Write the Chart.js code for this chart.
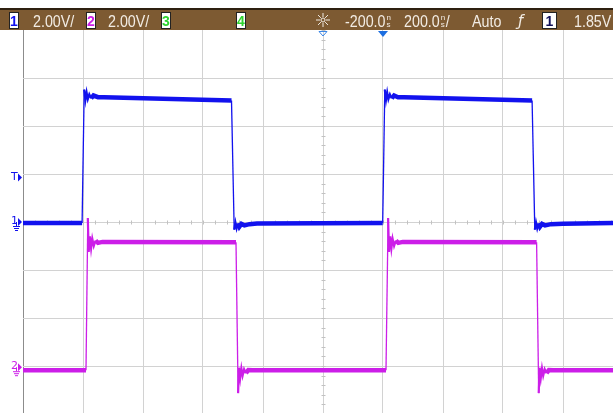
<!DOCTYPE html>
<html>
<head>
<meta charset="utf-8">
<script src="https://cdn.jsdelivr.net/npm/chart.js@4.4.1/dist/chart.umd.min.js"></script>
<style>
html, body { margin: 0; padding: 0; background: #fff; overflow: hidden; }
#wrap { position: relative; width: 613px; height: 413px; }
</style>
</head>
<body>
<div id="wrap"><canvas id="scope" width="613" height="413"></canvas></div>
<script>
// Channel 1 (blue), time in ns, volts
const ch1Time = [
	-1200, -1003,
	-996, -992, -988, -984, -979, -973, -965, -950, -930,
	-505,
	-496, -492, -488, -484, -479, -472, -462, -445, -420,
	-1,
	6, 10, 14, 18, 23, 29, 37, 50, 70,
	497,
	506, 510, 514, 518, 523, 530, 540, 560, 600,
	767
]
const ch1Volts = [
	-0.04, -0.04,
	5.52, 5.08, 5.4, 5.12, 5.32, 5.15, 5.27, 5.2, 5.2,
	5.06,
	-0.32, -0.02, -0.26, -0.06, -0.2, -0.08, -0.14, -0.09, -0.06,
	-0.04,
	5.52, 5.08, 5.4, 5.12, 5.32, 5.15, 5.27, 5.2, 5.2,
	5.06,
	-0.32, -0.02, -0.26, -0.06, -0.2, -0.08, -0.14, -0.09, -0.07,
	-0.04
]

// Channel 2 (magenta), time in ns, volts
const ch2Time = [
	-1200, -990,
	-984, -981, -977, -973, -969, -964, -958, -950, -935,
	-490,
	-483, -480, -476, -472, -468, -463, -457, -449, -435,
	10,
	17, 20, 24, 28, 32, 37, 43, 51, 66,
	512,
	519, 522, 526, 530, 534, 539, 545, 553, 567,
	767
]
const ch2Volts = [
	-0.13, -0.13,
	6.22, 4.8, 5.45, 4.95, 5.35, 5.05, 5.28, 5.18, 5.22,
	5.21,
	-1.08, -0.02, -0.45, -0.05, -0.35, -0.08, -0.25, -0.12, -0.13,
	-0.13,
	6.22, 4.8, 5.45, 4.95, 5.35, 5.05, 5.28, 5.18, 5.22,
	5.21,
	-1.08, -0.02, -0.45, -0.05, -0.35, -0.08, -0.25, -0.12, -0.13,
	-0.13
]

// status bar texts
const chScaleLabels = ['2.00V/', '2.00V/']
const delayLabel = '-200.0'
const timebaseLabel = '200.0'
const trigModeLabel = 'Auto'
const trigLevelLabel = '1.85V'
const trigLevel = 1.85

// screen: 10 div x 200ns, 8 div x 2V, display cut on the right/bottom
const tMin = -1200
const tMax = -1200 + (590 / 60) * 200
const tStep = 200
const ch1Min = -7.958
const ch1Max = 8
const vStep = 2
const ch2Offset = 6.05

const BLUE = '#1212ee'
const MAGENTA = '#cc1ee8'
const FONT = '"Liberation Sans", Arial, sans-serif'

function toPoints(times, volts) {
	return times.map((t, i) => ({ x: t, y: volts[i] }))
}

function traceWidth(ctx) {
	let dy = Math.abs(ctx.p1.y - ctx.p0.y)
	if (dy > 40) return 1.3
	if (dy > 4) return 2.2
	return 4.5
}

function fixedTicks(from, to, step) {
	return axis => {
		let ticks = []
		for (let v = from; v <= to + 1e-6; v += step) ticks.push({ value: v })
		axis.ticks = ticks
	}
}

// narrow text like the scope's status font
function narrowText(ctx, text, x, y, size) {
	ctx.save()
	ctx.font = size + 'px ' + FONT
	ctx.translate(x, y)
	ctx.scale(0.84, 1)
	ctx.fillText(text, 0, 0)
	let w = ctx.measureText(text).width * 0.84
	ctx.restore()
	return x + w
}

const scopeDecor = {
	id: 'scopeDecor',
	beforeDatasetsDraw(chart) {
		const { ctx, scales } = chart
		const x = scales.x, y = scales.y
		const cx = Math.round(x.getPixelForValue(-200)) + 0.5
		const cy = Math.round(y.getPixelForValue(0)) + 0.5
		ctx.save()
		ctx.strokeStyle = '#c2c2c2'
		ctx.lineWidth = 1
		ctx.beginPath()
		for (let t = tMin; t <= tMax; t += 40) {
			let px = Math.round(x.getPixelForValue(t)) + 0.5
			ctx.moveTo(px, cy - 2)
			ctx.lineTo(px, cy + 2)
		}
		for (let k = -19; k <= 20; k++) {
			let py = Math.round(y.getPixelForValue(k * 0.4)) + 0.5
			ctx.moveTo(cx - 2, py)
			ctx.lineTo(cx + 2, py)
		}
		ctx.stroke()
		ctx.restore()
	},
	afterDraw(chart) {
		const { ctx, scales } = chart
		const x = scales.x, y = scales.y, y2 = scales.y2
		ctx.save()
		// status bar
		ctx.fillStyle = '#ffffff'
		ctx.fillRect(0, 0, 613, 9)
		ctx.fillStyle = '#2e2010'
		ctx.fillRect(0, 8, 613, 2)
		ctx.fillStyle = '#7d5a32'
		ctx.fillRect(0, 10, 613, 20)

		function box(bx, w, digit, color) {
			ctx.fillStyle = '#ffffff'
			ctx.fillRect(bx, 12, w, 17)
			ctx.strokeStyle = '#222'
			ctx.lineWidth = 1
			ctx.strokeRect(bx + 0.5, 12.5, w - 1, 16)
			ctx.fillStyle = color
			ctx.font = 'bold 14px ' + FONT
			ctx.textAlign = 'center'
			ctx.fillText(digit, bx + w / 2, 26)
			ctx.textAlign = 'left'
		}
		box(9, 10, '1', BLUE)
		box(86, 10, '2', MAGENTA)
		box(161, 10, '3', '#2fd42f')
		box(236, 10, '4', '#2fd42f')
		box(542, 15, '1', '#10105a')

		ctx.fillStyle = '#f2ece4'
		narrowText(ctx, chScaleLabels[0], 33, 27, 17)
		narrowText(ctx, chScaleLabels[1], 108, 27, 17)

		function nsText(tx, label) {
			let nx = narrowText(ctx, label, tx, 27, 17) + 1
			ctx.font = '8px ' + FONT
			ctx.fillText('n', nx, 20)
			ctx.fillText('s', nx, 27)
			return nx + 5
		}
		nsText(345, delayLabel)
		let after = nsText(404, timebaseLabel)
		narrowText(ctx, '/', after, 27, 17)
		narrowText(ctx, trigModeLabel, 472, 27, 17)
		ctx.font = 'italic 15px "DejaVu Sans", sans-serif'
		ctx.fillText('ƒ', 518, 26)
		narrowText(ctx, trigLevelLabel, 574, 27, 17)

		// acquisition icon
		ctx.strokeStyle = '#f2ece4'
		ctx.lineWidth = 1
		ctx.beginPath()
		for (let k = 0; k < 8; k++) {
			let a = k * Math.PI / 4
			ctx.moveTo(323 + Math.cos(a) * 3, 20 + Math.sin(a) * 3)
			ctx.lineTo(323 + Math.cos(a) * 7, 20 + Math.sin(a) * 7)
		}
		ctx.stroke()
		ctx.beginPath()
		ctx.arc(323, 20, 2, 0, Math.PI * 2)
		ctx.stroke()

		// delay / trigger position markers
		let hx = x.getPixelForValue(-200)
		let tx0 = x.getPixelForValue(0)
		ctx.strokeStyle = '#3a86e6'
		ctx.beginPath()
		ctx.moveTo(hx - 4, 31.5); ctx.lineTo(hx + 4, 31.5); ctx.lineTo(hx, 36); ctx.closePath()
		ctx.stroke()
		ctx.fillStyle = '#1c6ee0'
		ctx.beginPath()
		ctx.moveTo(tx0 - 5, 31); ctx.lineTo(tx0 + 5, 31); ctx.lineTo(tx0, 37); ctx.closePath()
		ctx.fill()

		// left markers
		function marker(py, label, color, ground) {
			ctx.fillStyle = color
			ctx.font = '11px "DejaVu Sans", sans-serif'
			ctx.fillText(label, 11, py + 2)
			ctx.beginPath()
			ctx.moveTo(18, py - 4); ctx.lineTo(22, py); ctx.lineTo(18, py + 4); ctx.closePath()
			ctx.fill()
			if (ground) {
				ctx.strokeStyle = color
				ctx.lineWidth = 1
				ctx.beginPath()
				ctx.moveTo(16.5, py); ctx.lineTo(16.5, py + 4)
				ctx.moveTo(13, py + 4.5); ctx.lineTo(20, py + 4.5)
				ctx.moveTo(14, py + 6.5); ctx.lineTo(19, py + 6.5)
				ctx.moveTo(15, py + 8.5); ctx.lineTo(18, py + 8.5)
				ctx.stroke()
			}
		}
		marker(y.getPixelForValue(trigLevel), 'T', BLUE, false)
		marker(y.getPixelForValue(0), '1', BLUE, true)
		marker(y2.getPixelForValue(0), '2', MAGENTA, true)
		ctx.restore()
	}
}

const scopeConfig = {
	type: 'line',
	data: {
		datasets: [
			{
				label: 'Channel 2',
				data: toPoints(ch2Time, ch2Volts),
				yAxisID: 'y2',
				borderColor: MAGENTA,
				borderWidth: 4.5,
				pointRadius: 0,
				tension: 0,
				fill: false,
				segment: { borderWidth: traceWidth }
			},
			{
				label: 'Channel 1',
				data: toPoints(ch1Time, ch1Volts),
				yAxisID: 'y',
				borderColor: BLUE,
				borderWidth: 4.5,
				pointRadius: 0,
				tension: 0,
				fill: false,
				segment: { borderWidth: traceWidth }
			}
		]
	},
	options: {
		responsive: false,
		devicePixelRatio: 1,
		animation: false,
		layout: { padding: { top: 30, left: 23, right: 0, bottom: 0 } },
		plugins: { legend: { display: false }, tooltip: { enabled: false } },
		scales: {
			x: {
				type: 'linear',
				min: tMin,
				max: tMax,
				afterBuildTicks: fixedTicks(tMin, tMax, tStep),
				ticks: { display: false },
				border: { display: false },
				grid: {
					drawTicks: false,
					lineWidth: 1,
					color: ctx => (ctx.tick.value === tMin ? '#8c8c8c' : '#d2d2d2')
				}
			},
			y: {
				min: ch1Min,
				max: ch1Max,
				afterBuildTicks: fixedTicks(-6, 6, vStep),
				ticks: { display: false },
				border: { display: false },
				grid: { drawTicks: false, lineWidth: 1, color: '#d2d2d2' }
			},
			y2: {
				display: false,
				min: ch1Min + ch2Offset,
				max: ch1Max + ch2Offset
			}
		}
	},
	plugins: [scopeDecor]
}

const scopeChart = new Chart(document.getElementById('scope'), scopeConfig)
</script>
</body>
</html>
